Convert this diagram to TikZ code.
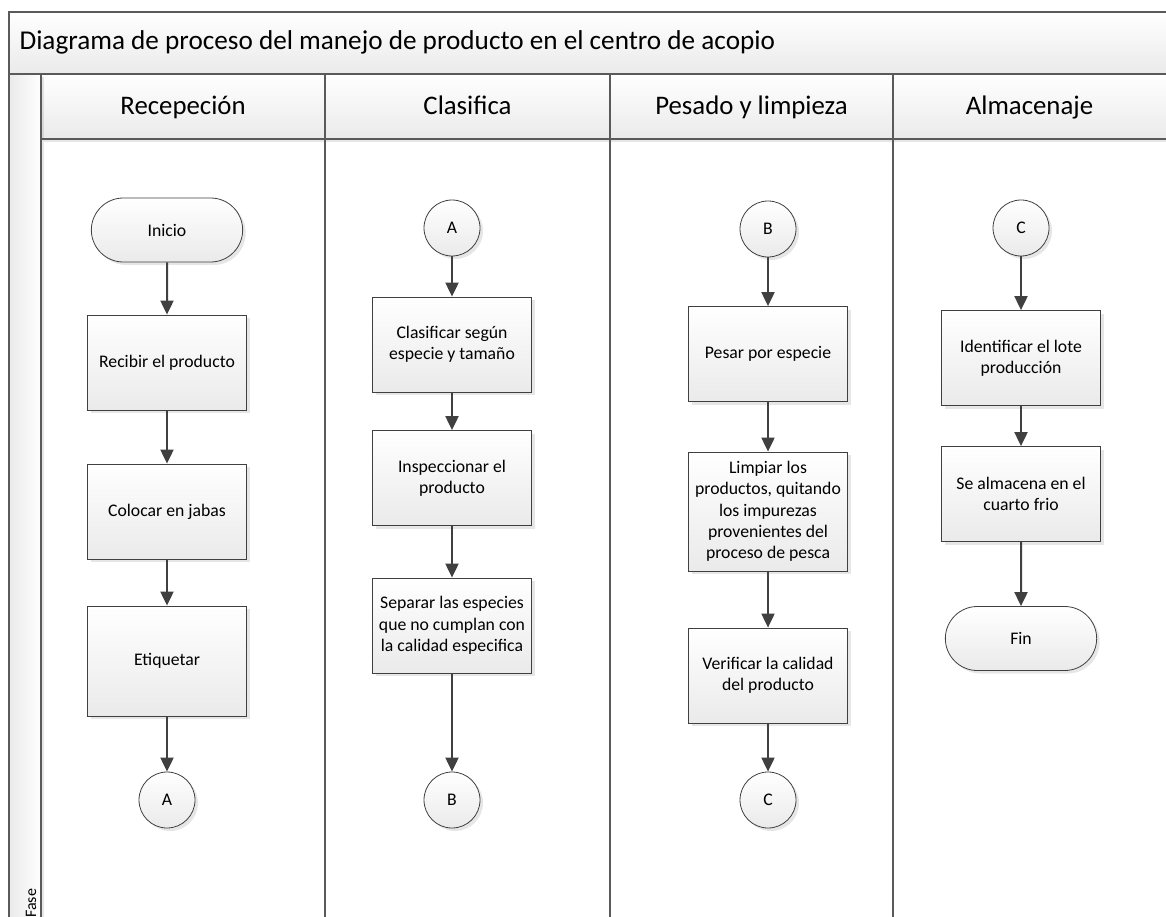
\documentclass[tikz,border=0pt]{standalone}
\usepackage{fontspec}
\setmainfont{Carlito}
\usetikzlibrary{arrows.meta,shapes.misc,shadows}
\definecolor{lineg}{HTML}{404040}
\definecolor{frameg}{HTML}{5A5A5A}
\definecolor{fillg}{HTML}{EAEAEA}
\begin{document}
\begin{tikzpicture}[x=1pt, y=-1pt,
  every node/.style={font=\fontsize{17.7}{21.3}\selectfont},
  shade/.style={drop shadow={shadow xshift=3pt, shadow yshift=-3pt, opacity=0.22, fill=black!45}},
  box/.style={draw=lineg, line width=0.8pt, top color=white, bottom color=fillg, shade,
    minimum width=159pt, minimum height=95pt, align=center, inner sep=2pt},
  term/.style={rounded rectangle, draw=lineg, line width=0.8pt, top color=white, bottom color=fillg, shade,
    minimum width=158pt, minimum height=64pt},
  conn/.style={circle, draw=lineg, line width=0.8pt, top color=white, bottom color=fillg, shade,
    minimum size=56pt, inner sep=0pt},
  flow/.style={draw=lineg, line width=2pt, -{Triangle[width=13pt,length=14pt]}},
  frame/.style={draw=frameg, line width=1.5pt},
  big/.style={font=\fontsize{26.8}{30}\selectfont, text height=18pt, text depth=6pt}]
  \useasboundingbox (0,0) rectangle (1166,917);

  % title band, header row and side column
  \shade[top color=white, bottom color=fillg] (9,12) rectangle (1170,74);
  \shade[top color=white, bottom color=fillg] (41,74) rectangle (1170,139);
  \shade[left color=fillg, right color=white] (9,74) rectangle (41,920);
  \draw[frame] (1170,12) -- (9,12) -- (9,920);
  \draw[frame] (9,74) -- (1170,74);
  \draw[frame] (41,74) -- (41,920);
  \draw[frame] (41,139) -- (1170,139);
  \foreach \x in {325,610,893} {
    \draw[frame] (\x,74) -- (\x,920);
  }

  \node[big, anchor=west, font=\fontsize{27.2}{30}\selectfont] (title) at (16,44) {Diagrama de proceso del manejo de producto en el centro de acopio};
  \node[big] (hrec) at (183,109) {Recepeción};
  \node[big] (hcla) at (467.5,109) {Clasifica};
  \node[big] (hpes) at (751.5,109) {Pesado y limpieza};
  \node[big] (halm) at (1029.5,109) {Almacenaje};
  \node[rotate=90, anchor=west, font=\fontsize{16}{18}\selectfont, inner sep=0pt] (fase) at (31,918) {Fase};

  % Recepcion
  \node[term] (ini) at (167,230) {Inicio};
  \node[box] (rec) at (167,362.5) {Recibir el producto};
  \node[box] (col) at (167,511.5) {Colocar en jabas};
  \node[box, minimum height=110pt] (eti) at (167,661) {Etiquetar};
  \node[conn] (outa) at (167,800) {A};
  \draw[flow] (ini) -- (rec);
  \draw[flow] (rec) -- (col);
  \draw[flow] (col) -- (eti);
  \draw[flow] (eti) -- (outa);

  % Clasifica
  \node[conn] (ina) at (452,228) {A};
  \node[box] (cla) at (452,344.5) {Clasificar según\\especie y tamaño};
  \node[box] (ins) at (452,478) {Inspeccionar el\\producto};
  \node[box] (sep) at (452,625.5) {Separar las especies\\que no cumplan con\\la calidad especifica};
  \node[conn] (outb) at (452,800) {B};
  \draw[flow] (ina) -- (cla);
  \draw[flow] (cla) -- (ins);
  \draw[flow] (ins) -- (sep);
  \draw[flow] (sep) -- (outb);

  % Pesado y limpieza
  \node[conn] (inb) at (768,229) {B};
  \node[box] (pes) at (768,354) {Pesar por especie};
  \node[box, minimum height=119pt] (lim) at (768,511.5) {Limpiar los\\productos, quitando\\los impurezas\\provenientes del\\proceso de pesca};
  \node[box] (ver) at (768,675.5) {Verificar la calidad\\del producto};
  \node[conn] (outc) at (768,800) {C};
  \draw[flow] (inb) -- (pes);
  \draw[flow] (pes) -- (lim);
  \draw[flow] (lim) -- (ver);
  \draw[flow] (ver) -- (outc);

  % Almacenaje
  \node[conn] (inc) at (1021,228) {C};
  \node[box] (ide) at (1021,358) {Identificar el lote\\producción};
  \node[box] (alm) at (1021,494) {Se almacena en el\\cuarto frio};
  \node[term] (fin) at (1021,638.5) {Fin};
  \draw[flow] (inc) -- (ide);
  \draw[flow] (ide) -- (alm);
  \draw[flow] (alm) -- (fin);
\end{tikzpicture}
\end{document}
